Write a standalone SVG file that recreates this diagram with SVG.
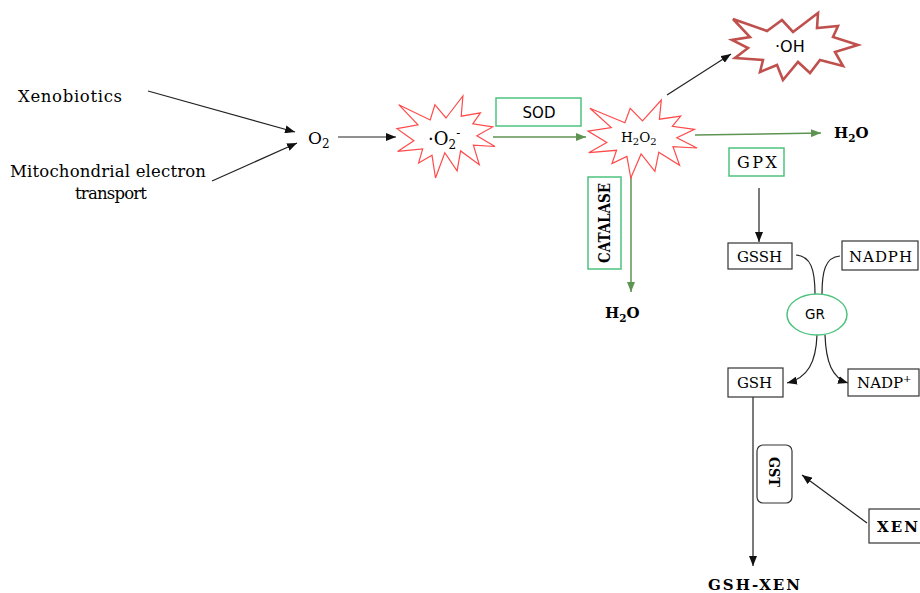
<svg xmlns="http://www.w3.org/2000/svg" width="920" height="593" viewBox="0 0 920 593">
<style>
.serif{font-family:"DejaVu Serif","Liberation Serif",serif;fill:#000}
.sans{font-family:"DejaVu Sans","Liberation Sans",sans-serif;fill:#000}
.box{fill:#fff;stroke:#333;stroke-width:1.2}
.gbox{fill:#fff;stroke:#4ec27e;stroke-width:1.5}
.ln{fill:none;stroke:#222;stroke-width:1.2}
.gln{fill:none;stroke:#5e9452;stroke-width:1.5}
.star{fill:#fff;stroke:#ff4a4a;stroke-width:1.2;stroke-linejoin:miter}
.star2{fill:#fff;stroke:#c0504d;stroke-width:2.6;stroke-linejoin:miter}
.b{font-weight:bold}
</style>
<defs>
<marker id="ah" markerUnits="userSpaceOnUse" markerWidth="10" markerHeight="8" refX="10" refY="4" orient="auto"><path d="M0,0 L10,4 L0,8 Z" fill="#111"/></marker>
<marker id="gah" markerUnits="userSpaceOnUse" markerWidth="10" markerHeight="8" refX="10" refY="4" orient="auto"><path d="M0,0 L10,4 L0,8 Z" fill="#5e9452"/></marker>
</defs>

<g id="connectors">
<line class="ln" x1="148" y1="91" x2="295" y2="132" marker-end="url(#ah)"/>
<line class="ln" x1="212" y1="181" x2="297" y2="143" marker-end="url(#ah)"/>
<line class="ln" x1="338" y1="137" x2="396" y2="137" marker-end="url(#ah)"/>
<line class="gln" x1="493" y1="137" x2="586" y2="137" marker-end="url(#gah)"/>
<line class="ln" x1="667" y1="95" x2="731" y2="54" marker-end="url(#ah)"/>
<line class="gln" x1="695" y1="135" x2="821" y2="133" marker-end="url(#gah)"/>
<line class="gln" x1="631" y1="176" x2="631" y2="292" marker-end="url(#gah)"/>
<line class="ln" x1="759" y1="188" x2="759" y2="242" marker-end="url(#ah)"/>
<path class="ln" d="M796,255 C811,256 815,270 815,294"/>
<path class="ln" d="M840,256 C825,257 822,272 822,294"/>
<path class="ln" d="M817,335 C816,362 808,378 787,383" marker-end="url(#ah)"/>
<path class="ln" d="M825,335 C826,362 832,378 848,383" marker-end="url(#ah)"/>
<line class="ln" x1="753" y1="397" x2="753" y2="566" marker-end="url(#ah)"/>
<line class="ln" x1="867" y1="523" x2="802" y2="475" marker-end="url(#ah)"/>
</g>

<g id="xenobiotics"><text class="serif" x="18" y="102" font-size="16.5" textLength="104" lengthAdjust="spacing">Xenobiotics</text></g>
<g id="mito">
<text class="serif" x="10" y="177" font-size="16.5" textLength="196" lengthAdjust="spacing">Mitochondrial electron</text>
<text class="serif" x="75" y="199" font-size="16.5" textLength="72" lengthAdjust="spacing">transport</text>
</g>
<g id="o2"><text class="serif" x="308" y="144" font-size="17">O<tspan dy="4" font-size="12">2</tspan></text></g>

<g id="superoxide">
<polygon class="star" points="446,118 462.9,96 461.2,116.2 480.4,112.9 472.8,123.8 492.7,126.9 476.9,135.8 495,146.5 473.4,145.1 479.3,164.7 460.6,150.9 457.1,170.9 444.8,152.7 435.5,178 432,155.3 418.6,162.9 422.7,148.9 397.6,151.4 413.9,140.7 397,128.7 418,124.9 398.7,104.7 430.2,120 434.9,104.7"/>
<text class="serif" x="428" y="145" font-size="18">·O<tspan dy="4" font-size="12">2</tspan><tspan dy="-12" font-size="12">-</tspan></text>
</g>

<g id="sod"><rect class="gbox" x="496" y="98" width="85" height="28"/><text class="sans" x="539" y="118" font-size="15" text-anchor="middle">SOD</text></g>

<g id="h2o2">
<polygon class="star" points="642.5,120.9 661.3,100 659.4,119.2 680.7,116.1 672.3,126.4 694.5,129.4 676.8,137.8 697,148 673,146.7 679.6,165.3 658.8,152.2 654.9,171.3 641.1,153.9 630.8,178 626.9,156.4 612,163.6 616.6,150.3 588.7,152.7 606.8,142.5 588,131.1 611.3,127.5 589.9,108.3 624.9,122.8 630.2,108.3"/>
<text class="serif" x="621" y="142" font-size="13.5">H<tspan dy="3" font-size="10">2</tspan><tspan dy="-3">O</tspan><tspan dy="3" font-size="10">2</tspan></text>
</g>

<g id="oh">
<polygon class="star2" points="733,19 767,31 782,20 793,32 818,13 817,28 838,26 833,37 858,45 835,52 843,66 820,60 810,73 798,62 783,80 777,65 760,72 763,60 735,58 748,48 732,40 750,37"/>
<text class="sans" x="775" y="52" font-size="16">·OH</text>
</g>

<g id="h2o-right"><text class="serif b" x="834" y="138" font-size="15">H<tspan dy="4" font-size="10.5">2</tspan><tspan dy="-4">O</tspan></text></g>

<g id="catalase">
<rect class="gbox" x="588" y="177" width="33" height="92"/>
<text class="serif b" transform="translate(610,223) rotate(-90)" x="0" y="0" font-size="16" text-anchor="middle" textLength="80" lengthAdjust="spacingAndGlyphs">CATALASE</text>
</g>
<g id="h2o-bottom"><text class="serif b" x="605" y="318" font-size="15">H<tspan dy="4" font-size="10.5">2</tspan><tspan dy="-4">O</tspan></text></g>

<g id="gpx"><rect class="gbox" x="729" y="148" width="55" height="28"/><text class="serif" x="737" y="168" font-size="16" textLength="40" lengthAdjust="spacing">GPX</text></g>

<g id="gssh"><rect class="box" x="728" y="243" width="64" height="26"/><text class="serif" x="737" y="262" font-size="15" textLength="45" lengthAdjust="spacing">GSSH</text></g>
<g id="nadph"><rect class="box" x="842" y="241" width="76" height="29"/><text class="serif" x="849" y="262" font-size="15" textLength="63" lengthAdjust="spacing">NADPH</text></g>
<g id="gr"><ellipse cx="817" cy="314.5" rx="30" ry="20.5" fill="#fff" stroke="#4ec27e" stroke-width="1.5"/><text class="sans" x="815" y="319" font-size="13.5" text-anchor="middle">GR</text></g>
<g id="gsh"><rect class="box" x="728" y="368" width="55" height="29"/><text class="serif" x="737" y="388" font-size="15" textLength="35" lengthAdjust="spacing">GSH</text></g>
<g id="nadp"><rect class="box" x="848" y="369" width="71" height="27"/><text class="serif" x="857" y="388" font-size="15">NADP<tspan dy="-6" font-size="10">+</tspan></text></g>

<g id="gst">
<rect x="757" y="445" width="35" height="58" rx="6" fill="#fff" stroke="#333" stroke-width="1.2"/>
<text class="serif b" transform="translate(768.5,472) rotate(90)" x="0" y="0" font-size="15" text-anchor="middle" textLength="30" lengthAdjust="spacingAndGlyphs">GST</text>
</g>
<g id="xen"><rect class="box" x="869" y="509" width="52" height="34"/><text class="serif b" x="877" y="532" font-size="15" textLength="41" lengthAdjust="spacing">XEN</text></g>
<g id="gsh-xen"><text class="serif b" x="708" y="590" font-size="15" textLength="92" lengthAdjust="spacing">GSH-XEN</text></g>
</svg>
